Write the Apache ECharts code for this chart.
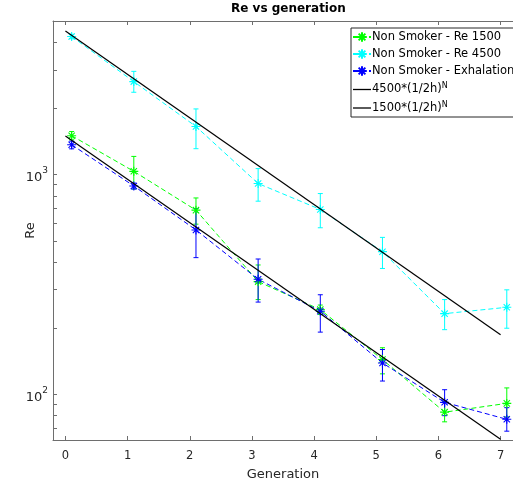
<!DOCTYPE html>
<html>
<head>
<meta charset="utf-8">
<script src="https://cdn.jsdelivr.net/npm/echarts@6/dist/echarts.min.js"></script>
<style>html,body{margin:0;padding:0;background:#fff;}#c{width:513px;height:486px;}</style>
</head>
<body>
<div id="c"></div>
<script>
// ---- data ----
const generations = [0.1, 1.1, 2.1, 3.1, 4.1, 5.1, 6.1, 7.1];
const re1500 = [1503, 1035, 689, 326, 243, 144, 83, 91];
const re1500Low = [1440, 860, 595, 270, 231, 124, 75, 79];
const re1500High = [1570, 1210, 783, 388, 255, 163, 93, 107];
const re4500 = [4250, 2650, 1655, 911, 694, 446, 233, 249];
const re4500Low = [4150, 2370, 1312, 757, 573, 374, 197, 200];
const re4500High = [4350, 2950, 1990, 1065, 820, 518, 270, 299];
const exhal = [1367, 888, 560, 334, 239, 139, 92, 77];
const exhalLow = [1310, 860, 419, 263, 192, 115, 80, 68];
const exhalHigh = [1420, 915, 701, 413, 284, 160, 105, 87];
const refX = [0, 7];
const ref4500 = [4500, 187];
const ref1500 = [1500, 62.5];
const xTicks = [0, 1, 2, 3, 4, 5, 6, 7];
const yMajorTicks = [100, 1000];
const yAllTicks = [70, 80, 90, 100, 200, 300, 400, 500, 600, 700, 800, 900, 1000, 2000, 3000, 4000, 5000];
const seriesNames = ['Non Smoker - Re 1500', 'Non Smoker - Re 4500', 'Non Smoker - Exhalation', '4500*(1/2h)^N', '1500*(1/2h)^N'];

const AX = '#262626';
const AXL = '#6e6e6e';
const FONT = '"DejaVu Sans", sans-serif';
const star = 'path://M0,5L10,5M5,0L5,10M1.5,1.5L8.5,8.5M8.5,1.5L1.5,8.5';
const lineIcon = 'path://M0,0L18,0L18,1.3L0,1.3Z';

function pts(xs, ys) { return xs.map((x, i) => [x, ys[i]]); }
function ebData(xs, lo, hi) { return xs.map((x, i) => [x, lo[i], hi[i]]); }

function dataSeries(name, color, vals) {
  return {
    name: name, type: 'line', xAxisIndex: 0, yAxisIndex: 0,
    data: pts(generations, vals),
    symbol: star, symbolSize: 9, showSymbol: true,
    lineStyle: { color: color, width: 1, type: [5, 3] },
    itemStyle: { color: color, borderColor: color, borderWidth: 1.1 },
    emphasis: { disabled: true }, z: 3
  };
}
function ebSeries(color, lo, hi) {
  return {
    type: 'custom', xAxisIndex: 0, yAxisIndex: 0,
    data: ebData(generations, lo, hi), z: 2,
    renderItem: function (params, api) {
      const x = api.value(0);
      const a = api.coord([x, api.value(1)]);
      const b = api.coord([x, api.value(2)]);
      const w = 2.5;
      const st = { stroke: color, lineWidth: 1 };
      return {
        type: 'group', children: [
          { type: 'line', shape: { x1: a[0], y1: a[1], x2: b[0], y2: b[1] }, style: st },
          { type: 'line', shape: { x1: a[0] - w, y1: a[1], x2: a[0] + w, y2: a[1] }, style: st },
          { type: 'line', shape: { x1: b[0] - w, y1: b[1], x2: b[0] + w, y2: b[1] }, style: st }
        ]
      };
    }
  };
}
function refSeries(name, vals) {
  return {
    name: name, type: 'line', xAxisIndex: 0, yAxisIndex: 0,
    data: pts(refX, vals), symbol: 'none',
    lineStyle: { color: '#000', width: 1.2 }, itemStyle: { color: '#000' }, z: 4
  };
}

const chart = echarts.init(document.getElementById('c'), null, { renderer: 'canvas' });
chart.setOption({
  animation: false,
  backgroundColor: '#fff',
  title: {
    text: 'Re vs generation', left: 231, top: 3, padding: 0,
    textStyle: { fontFamily: FONT, fontSize: 12, fontWeight: 'bold', color: '#000' }
  },
  legend: {
    data: [
      { name: seriesNames[0] }, { name: seriesNames[1] }, { name: seriesNames[2] },
      { name: seriesNames[3], icon: lineIcon }, { name: seriesNames[4], icon: lineIcon }
    ],
    orient: 'vertical', left: 351, top: 28,
    backgroundColor: '#fff', borderColor: AX, borderWidth: 1, borderRadius: 0,
    padding: [3, 6, 3, 1], itemGap: 5, itemWidth: 18, itemHeight: 12,
    textStyle: {
      fontFamily: FONT, fontSize: 11.5, color: '#000', padding: [0, 0, 0, -4],
      rich: { s: { fontSize: 8, fontFamily: FONT, padding: [0, 0, 7, 0] } }
    },
    formatter: function (n) { return n.replace('^N', '{s|N}'); }
  },
  grid: { left: 53, right: -6, top: 21, bottom: 45, containLabel: false },
  xAxis: [{
    type: 'value', position: 'bottom', min: -0.2, max: 7.2,
    name: 'Generation', nameLocation: 'middle', nameGap: 28, nameMoveOverlap: false,
    nameTextStyle: { fontFamily: FONT, fontSize: 13, color: AX },
    axisLine: { show: true, onZero: false, lineStyle: { color: AXL, width: 1 } },
    axisTick: { show: true, inside: true, length: 4, customValues: xTicks, lineStyle: { color: AXL } },
    axisLabel: { customValues: xTicks, fontFamily: FONT, fontSize: 11.5, color: AX, margin: 10 },
    splitLine: { show: false }
  }, {
    type: 'value', position: 'top', min: -0.2, max: 7.2,
    axisLine: { show: true, onZero: false, lineStyle: { color: AXL, width: 1 } },
    axisTick: { show: true, inside: true, length: 4, customValues: xTicks, lineStyle: { color: AXL } },
    axisLabel: { show: false }, splitLine: { show: false }
  }],
  yAxis: [{
    type: 'log', logBase: 10, min: 62, max: 5000,
    name: 'Re', nameLocation: 'middle', nameGap: 16, nameRotate: 90, nameMoveOverlap: false,
    nameTextStyle: { fontFamily: FONT, fontSize: 13, color: AX },
    axisLine: { show: true, onZero: false, lineStyle: { color: AXL, width: 1 } },
    axisTick: { show: true, inside: true, length: 4, customValues: yAllTicks, lineStyle: { color: AXL } },
    axisLabel: {
      customValues: yMajorTicks, margin: 5, color: AX,
      formatter: function (v) { return '{b|10}{s|' + Math.round(Math.log10(v)) + '}'; },
      rich: {
        b: { fontFamily: FONT, fontSize: 13, color: AX, padding: [6, 0, 0, 0] },
        s: { fontFamily: FONT, fontSize: 9, color: AX, padding: [0, 0, 8, 0] }
      }
    },
    splitLine: { show: false }
  }],
  series: [
    ebSeries('#00ff00', re1500Low, re1500High),
    dataSeries(seriesNames[0], '#00ff00', re1500),
    ebSeries('#00ffff', re4500Low, re4500High),
    dataSeries(seriesNames[1], '#00ffff', re4500),
    ebSeries('#0000ff', exhalLow, exhalHigh),
    dataSeries(seriesNames[2], '#0000ff', exhal),
    refSeries(seriesNames[3], ref4500),
    refSeries(seriesNames[4], ref1500)
  ]
});
</script>
</body>
</html>
